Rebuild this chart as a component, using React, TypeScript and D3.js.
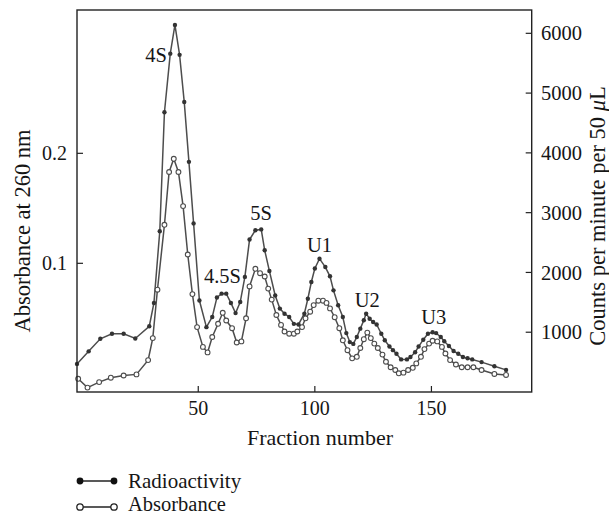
import React from "react";
import * as d3 from "d3";

// [fraction, counts per minute per 50 µL]
const radioactivity: [number, number][] = [
  [-2, 470], [3, 680], [8, 890], [13, 975], [18, 975], [23, 895], [29, 1100], [31, 1490],
  [33.5, 2690], [35.5, 4680], [38, 5660], [40, 6140], [42, 5640], [44, 4850], [46, 3850],
  [48, 2820], [50.5, 1530], [53.5, 1085], [56, 1255], [58, 1580], [60, 1645], [62, 1645],
  [64, 1490], [66, 1320], [68, 1505], [70, 1925], [72, 2550], [74.5, 2705], [77, 2720],
  [78.5, 2370], [80.5, 2025], [83, 1615], [85, 1395], [87, 1310], [89, 1255], [91, 1140],
  [93, 1130], [95.5, 1310], [97, 1560], [98.5, 1840], [100, 2065], [102, 2230], [104.5, 2090],
  [106.5, 1935], [108, 1700], [110, 1450], [112, 1255], [113.5, 985], [115, 835], [116.5, 805],
  [118, 920], [119.5, 1060], [121, 1200], [122, 1310], [123.5, 1225], [125, 1170], [126.5, 1130],
  [128.5, 975], [130, 865], [132, 760], [133.5, 700], [135, 640], [137, 545], [139.5, 545],
  [141, 585], [143, 665], [144.5, 760], [146.5, 875], [148.5, 975], [150.5, 1000], [152, 985],
  [154, 920], [155.5, 850], [157.5, 770], [159.5, 685], [161.5, 640], [163.5, 585], [165.5, 565],
  [167.5, 545], [171.5, 500], [177, 430], [182, 370],
];

// [fraction, absorbance at 260 nm]
const absorbance: [number, number][] = [
  [-1.5, -0.005], [2.5, -0.013], [7.5, -0.008], [12.5, -0.004], [18, -0.002], [23.5, -0.001],
  [28.5, 0.012], [30.5, 0.032], [32.5, 0.076], [35.5, 0.135], [37.5, 0.183], [39.5, 0.195],
  [41.5, 0.183], [43.5, 0.152], [45.5, 0.108], [47.5, 0.072], [49.5, 0.042], [52, 0.024],
  [54, 0.019], [56, 0.033], [58.5, 0.045], [60.5, 0.055], [62, 0.048], [64.5, 0.041],
  [66.5, 0.028], [68.5, 0.029], [70.5, 0.05], [72, 0.079], [74.5, 0.095], [76.5, 0.091],
  [78.5, 0.088], [80, 0.077], [81.5, 0.067], [83.5, 0.053], [85.5, 0.044], [87, 0.038],
  [89, 0.036], [91, 0.036], [92.5, 0.038], [94.5, 0.042], [96, 0.05], [98, 0.056],
  [99.5, 0.062], [101.5, 0.066], [103.5, 0.066], [105, 0.064], [106.5, 0.059], [108.5, 0.051],
  [110.5, 0.041], [112, 0.03], [114, 0.021], [116, 0.0136], [118, 0.015], [119.5, 0.023],
  [121, 0.031], [122.5, 0.037], [124, 0.032], [125.5, 0.027], [127, 0.023], [129, 0.017],
  [130.5, 0.0105], [132.5, 0.0055], [134.5, 0.003], [136, 0.0], [138, 0.0006], [140, 0.003],
  [142, 0.005], [143.5, 0.009], [145.5, 0.015], [147, 0.022], [149, 0.027], [150.5, 0.0296],
  [152.5, 0.029], [154.5, 0.024], [156, 0.018], [158, 0.012], [160.5, 0.008], [163, 0.0055],
  [165.5, 0.0055], [168, 0.0055], [171.5, 0.003], [177, -0.0006], [182, -0.0015],
];

const xTicks = [50, 100, 150];
const leftTicks = [0.1, 0.2];
const rightTicks = [1000, 2000, 3000, 4000, 5000, 6000];

// peak labels: [text, fraction, counts (anchor)]
const peakLabels: [string, number, number][] = [
  ["4S", 31.9, 5520],
  ["4.5S", 60.4, 1818],
  ["5S", 76.9, 2877],
  ["U1", 102, 2350],
  ["U2", 122.5, 1420],
  ["U3", 151, 1130],
];

const W = 609;
const H = 516;
const M = { left: 77, right: 531.7, top: 10, bottom: 392 };
const FONT = "'Liberation Serif', 'Times New Roman', serif";
const LINE = "#4d4d4d";
const INK = "#161616";

export default function App() {
  const x = d3.scaleLinear().domain([-2, 193]).range([M.left, M.right]);
  const yL = d3.scaleLinear().domain([-0.017, 0.3303]).range([M.bottom, M.top]);
  const yR = d3.scaleLinear().domain([0, 6390]).range([M.bottom, M.top]);

  const radioLine = d3.line<[number, number]>().x((d) => x(d[0])).y((d) => yR(d[1]));
  const absLine = d3.line<[number, number]>().x((d) => x(d[0])).y((d) => yL(d[1]));

  return (
    <svg
      width={W}
      height={H}
      style={{ position: "absolute", left: 0, top: 0, background: "#fff" }}
      fontFamily={FONT}
    >
      <rect x={0} y={0} width={W} height={H} fill="#fff" />
      {/* series */}
      <path d={absLine(absorbance) || ""} fill="none" stroke={LINE} strokeWidth={1.5} />
      <path d={radioLine(radioactivity) || ""} fill="none" stroke={LINE} strokeWidth={1.5} />
      {absorbance.map((d, i) => (
        <circle key={"a" + i} cx={x(d[0])} cy={yL(d[1])} r={2.4} fill="#fff" stroke={LINE} strokeWidth={1.1} />
      ))}
      {radioactivity.map((d, i) => (
        <circle key={"r" + i} cx={x(d[0])} cy={yR(d[1])} r={2.2} fill="#333" />
      ))}

      {/* frame */}
      <rect
        x={M.left}
        y={M.top}
        width={M.right - M.left}
        height={M.bottom - M.top}
        fill="none"
        stroke="#222"
        strokeWidth={1.4}
      />

      {/* bottom axis */}
      {xTicks.map((t) => (
        <g key={"x" + t}>
          <line x1={x(t)} x2={x(t)} y1={M.bottom} y2={M.bottom - 6} stroke="#222" strokeWidth={1.2} />
          <text x={x(t)} y={415} textAnchor="middle" fontSize={20} fill={INK}>
            {t}
          </text>
        </g>
      ))}
      <text x={320} y={445} textAnchor="middle" fontSize={22} fill={INK}>
        Fraction number
      </text>

      {/* left axis */}
      {leftTicks.map((t) => (
        <g key={"l" + t}>
          <line x1={M.left} x2={M.left + 6} y1={yL(t)} y2={yL(t)} stroke="#222" strokeWidth={1.2} />
          <text x={67} y={yL(t)} dy="0.35em" textAnchor="end" fontSize={20} fill={INK}>
            {d3.format(".1f")(t)}
          </text>
        </g>
      ))}
      <text
        transform={`translate(30,231) rotate(-90)`}
        textAnchor="middle"
        fontSize={22.5}
        fill={INK}
      >
        Absorbance at 260 nm
      </text>

      {/* right axis */}
      {rightTicks.map((t) => (
        <g key={"r" + t}>
          <line x1={M.right} x2={M.right - 6} y1={yR(t)} y2={yR(t)} stroke="#222" strokeWidth={1.2} />
          <text x={541} y={yR(t)} dy="0.35em" textAnchor="start" fontSize={20.5} fill={INK}>
            {t}
          </text>
        </g>
      ))}
      <text
        transform={`translate(605,216) rotate(-90)`}
        textAnchor="middle"
        fontSize={22.5}
        fill={INK}
      >
        Counts per minute per 50 <tspan fontStyle="italic">μ</tspan>L
      </text>

      {/* peak labels */}
      {peakLabels.map(([t, f, c]) => (
        <text key={t} x={x(f)} y={yR(c)} textAnchor="middle" fontSize={20.5} fill={INK}>
          {t}
        </text>
      ))}

      {/* legend */}
      <g>
        <line x1={80} x2={114} y1={481} y2={481} stroke="#222" strokeWidth={1.5} />
        <circle cx={80} cy={481} r={3.4} fill="#111" />
        <circle cx={114} cy={481} r={3.4} fill="#111" />
        <text x={128} y={488} fontSize={21} fill={INK}>
          Radioactivity
        </text>
        <line x1={80} x2={114} y1={507} y2={507} stroke="#222" strokeWidth={1.5} />
        <circle cx={80} cy={507} r={3.2} fill="#fff" stroke="#222" strokeWidth={1.3} />
        <circle cx={114} cy={507} r={3.2} fill="#fff" stroke="#222" strokeWidth={1.3} />
        <text x={128} y={511} fontSize={20.5} fill={INK}>
          Absorbance
        </text>
      </g>
    </svg>
  );
}
